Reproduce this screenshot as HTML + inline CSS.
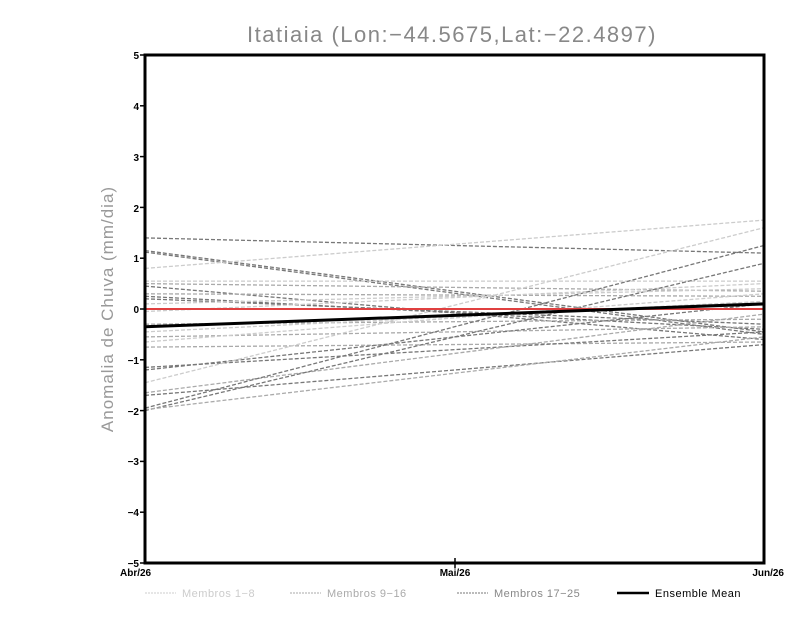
<!DOCTYPE html>
<html><head><meta charset="utf-8"><style>
body{margin:0;background:#fff;}
svg{display:block;font-family:"Liberation Sans",sans-serif;}
</style></head><body>
<svg width="800" height="618" viewBox="0 0 800 618">
<rect width="800" height="618" fill="#fff"/>
<text x="452" y="42" font-size="22" fill="#888" text-anchor="middle" letter-spacing="1.5">Itatiaia (Lon:−44.5675,Lat:−22.4897)</text>
<text transform="translate(113,309) rotate(-90)" font-size="17" fill="#999" text-anchor="middle" letter-spacing="1">Anomalia de Chuva (mm/dia)</text>
<g stroke-width="1.3" stroke-dasharray="4,2" fill="none">
<line x1="145" y1="237.9" x2="764" y2="253.1" stroke="#777"/>
<line x1="145" y1="250.6" x2="764" y2="331.9" stroke="#777"/>
<line x1="145" y1="252.1" x2="764" y2="334.4" stroke="#777"/>
<line x1="145" y1="268.4" x2="764" y2="220.1" stroke="#ccc"/>
<line x1="145" y1="281.1" x2="764" y2="281.1" stroke="#ccc"/>
<line x1="145" y1="283.6" x2="764" y2="291.2" stroke="#aaa"/>
<line x1="145" y1="286.1" x2="764" y2="339.5" stroke="#777"/>
<line x1="145" y1="293.8" x2="764" y2="296.3" stroke="#aaa"/>
<line x1="145" y1="296.3" x2="764" y2="329.3" stroke="#777"/>
<line x1="145" y1="298.8" x2="764" y2="324.2" stroke="#777"/>
<line x1="145" y1="311.5" x2="764" y2="283.6" stroke="#ccc"/>
<line x1="145" y1="324.2" x2="764" y2="319.2" stroke="#aaa"/>
<line x1="145" y1="331.9" x2="764" y2="301.4" stroke="#ccc"/>
<line x1="145" y1="336.9" x2="764" y2="326.8" stroke="#aaa"/>
<line x1="145" y1="347.1" x2="764" y2="342.0" stroke="#aaa"/>
<line x1="145" y1="367.4" x2="764" y2="331.9" stroke="#777"/>
<line x1="145" y1="370" x2="764" y2="303.9" stroke="#777"/>
<line x1="145" y1="382.7" x2="764" y2="227.7" stroke="#ccc"/>
<line x1="145" y1="395.4" x2="764" y2="344.6" stroke="#777"/>
<line x1="145" y1="392.8" x2="764" y2="314.1" stroke="#aaa"/>
<line x1="145" y1="408.1" x2="764" y2="245.5" stroke="#777"/>
<line x1="145" y1="410.6" x2="764" y2="263.3" stroke="#777"/>
<line x1="145" y1="409.6" x2="764" y2="336.9" stroke="#aaa"/>
<line x1="145" y1="303.9" x2="764" y2="288.7" stroke="#ccc"/>
<line x1="145" y1="342" x2="764" y2="293.8" stroke="#ccc"/>
</g>
<line x1="145" y1="309" x2="764" y2="309" stroke="#e04040" stroke-width="2"/>
<line x1="145" y1="326.8" x2="764" y2="303.9" stroke="#000" stroke-width="3"/>
<rect x="145" y="55" width="619" height="508" fill="none" stroke="#000" stroke-width="3"/>
<g stroke="#000" stroke-width="1.5">
<line x1="140" y1="55" x2="145" y2="55"/><line x1="140" y1="105.8" x2="145" y2="105.8"/>
<line x1="140" y1="156.6" x2="145" y2="156.6"/><line x1="140" y1="207.4" x2="145" y2="207.4"/>
<line x1="140" y1="258.2" x2="145" y2="258.2"/><line x1="140" y1="309" x2="145" y2="309"/>
<line x1="140" y1="359.8" x2="145" y2="359.8"/><line x1="140" y1="410.6" x2="145" y2="410.6"/>
<line x1="140" y1="461.4" x2="145" y2="461.4"/><line x1="140" y1="512.2" x2="145" y2="512.2"/>
<line x1="140" y1="563" x2="145" y2="563"/>
<line x1="455" y1="558" x2="455" y2="568"/>
</g>
<g font-size="10" font-weight="bold" fill="#000" text-anchor="end">
<text x="139" y="59">5</text><text x="139" y="110">4</text><text x="139" y="161">3</text>
<text x="139" y="212">2</text><text x="139" y="262">1</text><text x="139" y="313">0</text>
<text x="139" y="364">−1</text><text x="139" y="415">−2</text><text x="139" y="465">−3</text>
<text x="139" y="516">−4</text><text x="139" y="567">−5</text>
</g>
<g font-size="10" font-weight="bold" fill="#000">
<text x="120" y="576">Abr/26</text>
<text x="455" y="576" text-anchor="middle">Mai/26</text>
<text x="784" y="576" text-anchor="end">Jun/26</text>
</g>
<g stroke-width="1" stroke-dasharray="2,1">
<line x1="145" y1="593" x2="176" y2="593" stroke="#ccc"/>
<line x1="290" y1="593" x2="321" y2="593" stroke="#aaa"/>
<line x1="457" y1="593" x2="488" y2="593" stroke="#777"/>
</g>
<line x1="617" y1="593" x2="649" y2="593" stroke="#000" stroke-width="2.5"/>
<g font-size="11" letter-spacing="0.5">
<text x="182" y="597" fill="#ccc">Membros 1−8</text>
<text x="327" y="597" fill="#aaa">Membros 9−16</text>
<text x="494" y="597" fill="#888">Membros 17−25</text>
<text x="655" y="597" fill="#000">Ensemble Mean</text>
</g>
</svg>
</body></html>
